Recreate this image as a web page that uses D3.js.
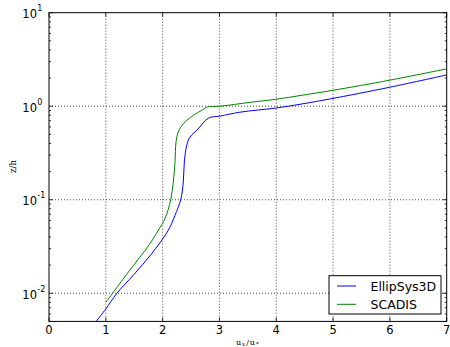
<!DOCTYPE html>
<html lang="en">
<head>
  <meta charset="UTF-8">
  <title>z/h profile</title>
  <script src="https://d3js.org/d3.v7.min.js"></script>
  <style>
    body { margin: 0; background: #fff; }
    svg { font-family: "DejaVu Sans", sans-serif; }
    .grid line { stroke: #000; stroke-width: 0.7; stroke-dasharray: 1,2; }
    .tick-label { font-size: 11.5px; fill: #000; }
  </style>
</head>
<body>
  <svg id="chart" width="450" height="347"></svg>
  <script>
    // EllipSys3D profile (u_x/u_*, z/h)
    const ellipU = [0.83, 1.0, 1.19, 1.50, 1.80, 2.10, 2.218, 2.319, 2.364, 2.382, 2.424, 2.482, 2.628, 2.805, 3.011, 3.36, 4.01, 4.42, 4.95, 6.0, 7.0];
    const ellipZ = [0.005, 0.0068, 0.0099, 0.0160, 0.0262, 0.0472, 0.0682, 0.1005, 0.155, 0.254, 0.381, 0.468, 0.574, 0.746, 0.784, 0.863, 0.959, 1.05, 1.197, 1.597, 2.16];
    // SCADIS profile
    const scadisU = [1.0, 1.386, 1.778, 1.924, 2.042, 2.143, 2.188, 2.218, 2.236, 2.276, 2.364, 2.54, 2.717, 2.776, 3.011, 3.54, 4.01, 4.42, 5.0, 6.0, 7.0];
    const scadisZ = [0.008, 0.0165, 0.034, 0.0472, 0.0629, 0.1005, 0.155, 0.254, 0.415, 0.531, 0.650, 0.798, 0.924, 0.978, 1.0, 1.10, 1.19, 1.30, 1.48, 1.90, 2.51];

    const seriesNames = ['EllipSys3D', 'SCADIS'];
    const seriesColors = ['#0000ff', '#008000'];
    const xTicks = [0, 1, 2, 3, 4, 5, 6, 7];
    const yMajor = [0.01, 0.1, 1, 10];
    const yExp = ['-2', '-1', '0', '1'];

    const svg = d3.select('#chart');
    const plotL = 49, plotR = 446.7, plotT = 12.7, plotB = 321.4;

    const x = d3.scaleLinear().domain([0, 7]).range([plotL, plotR]);
    const y = d3.scaleLog().domain([0.005, 10]).range([plotB, plotT]);

    // minor log ticks
    const yMinor = [];
    [0.001, 0.01, 0.1, 1].forEach(d => {
      for (let k = 2; k <= 9; k++) {
        const v = d * k;
        if (v >= 0.005 && v <= 10) yMinor.push(v);
      }
    });

    svg.append('defs').append('clipPath').attr('id', 'clip')
      .append('rect').attr('x', plotL).attr('y', plotT)
      .attr('width', plotR - plotL).attr('height', plotB - plotT);

    // grid
    const grid = svg.append('g').attr('class', 'grid');
    grid.selectAll('.gx').data(xTicks.slice(1, -1)).enter().append('line')
      .attr('x1', d => x(d)).attr('x2', d => x(d))
      .attr('y1', plotT).attr('y2', plotB);
    grid.selectAll('.gy').data(yMajor.slice(0, -1)).enter().append('line')
      .attr('x1', plotL).attr('x2', plotR)
      .attr('y1', d => y(d)).attr('y2', d => y(d));

    // curves
    const line = d3.line()
      .x(d => x(d[0])).y(d => y(d[1]))
      .curve(d3.curveCatmullRom.alpha(0.5));

    const series = [d3.zip(ellipU, ellipZ), d3.zip(scadisU, scadisZ)];
    svg.append('g').attr('clip-path', 'url(#clip)')
      .selectAll('path').data(series).enter().append('path')
      .attr('d', line)
      .attr('fill', 'none')
      .attr('stroke', (d, i) => seriesColors[i])
      .attr('stroke-width', 1);

    // ticks (inside, all four sides)
    const ticks = svg.append('g').attr('stroke', '#000').attr('stroke-width', 0.8);
    xTicks.forEach(t => {
      ticks.append('line').attr('x1', x(t)).attr('x2', x(t)).attr('y1', plotB).attr('y2', plotB - 4);
      ticks.append('line').attr('x1', x(t)).attr('x2', x(t)).attr('y1', plotT).attr('y2', plotT + 4);
    });
    yMajor.forEach(t => {
      ticks.append('line').attr('x1', plotL).attr('x2', plotL + 4).attr('y1', y(t)).attr('y2', y(t));
      ticks.append('line').attr('x1', plotR).attr('x2', plotR - 4).attr('y1', y(t)).attr('y2', y(t));
    });
    yMinor.forEach(t => {
      ticks.append('line').attr('x1', plotL).attr('x2', plotL + 2).attr('y1', y(t)).attr('y2', y(t));
      ticks.append('line').attr('x1', plotR).attr('x2', plotR - 2).attr('y1', y(t)).attr('y2', y(t));
    });

    // frame
    svg.append('rect').attr('x', plotL).attr('y', plotT)
      .attr('width', plotR - plotL).attr('height', plotB - plotT)
      .attr('fill', 'none').attr('stroke', '#000').attr('stroke-width', 1);

    // x tick labels
    svg.append('g').selectAll('text').data(xTicks).enter().append('text')
      .attr('class', 'tick-label')
      .attr('x', d => x(d)).attr('y', plotB + 12.5)
      .attr('text-anchor', 'middle')
      .text(d => d);

    // y tick labels 10^n
    svg.append('g').selectAll('text').data(yMajor).enter().append('text')
      .attr('class', 'tick-label')
      .attr('x', 37).attr('y', d => y(d) + 5.5)
      .attr('text-anchor', 'end')
      .text('10');
    svg.append('g').selectAll('text').data(yMajor).enter().append('text')
      .attr('x', 37.3).attr('y', d => y(d) - 1.5)
      .attr('font-size', '8px')
      .text((d, i) => yExp[i]);

    // axis labels
    const xl = svg.append('text')
      .attr('x', (plotL + plotR) / 2).attr('y', 344.5)
      .attr('text-anchor', 'middle')
      .attr('font-family', '"DejaVu Serif", serif')
      .attr('font-size', '8px')
      .attr('letter-spacing', '1px');
    xl.append('tspan').text('u');
    xl.append('tspan').attr('font-size', '5.5px').attr('dy', 1.5).text('x');
    xl.append('tspan').attr('dy', -1.5).text('/u');
    xl.append('tspan').attr('font-size', '5.5px').attr('dy', 1.5).text('*');

    svg.append('text')
      .attr('transform', 'translate(16,166.5) rotate(-90)')
      .attr('text-anchor', 'middle')
      .attr('font-family', '"DejaVu Serif", serif')
      .attr('font-size', '8.5px')
      .text('z/h');

    // legend
    const lg = svg.append('g');
    lg.append('rect').attr('x', 329).attr('y', 275.7).attr('width', 112).attr('height', 38.3)
      .attr('fill', '#fff').attr('stroke', '#000').attr('stroke-width', 1);
    seriesNames.forEach((name, i) => {
      const yy = 286 + i * 18.3;
      lg.append('line').attr('x1', 337).attr('x2', 356).attr('y1', yy).attr('y2', yy)
        .attr('stroke', seriesColors[i]).attr('stroke-width', 1);
      lg.append('text').attr('x', 370.5).attr('y', yy + 4.5)
        .attr('font-size', '12.5px').text(name);
    });
  </script>
</body>
</html>
